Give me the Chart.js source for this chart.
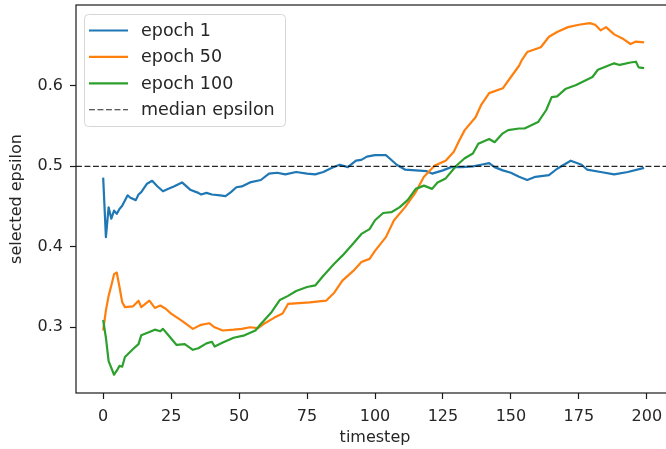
<!DOCTYPE html>
<html>
<head>
<meta charset="utf-8">
<script src="https://cdn.jsdelivr.net/npm/chart.js@4/dist/chart.umd.min.js"></script>
<style>
  html, body { margin: 0; padding: 0; background: #fff; overflow: hidden; }
  #wrap { width: 666px; height: 449px; overflow: hidden; position: relative; }
  canvas { display: block; }
</style>
</head>
<body>
<div id="wrap"><canvas id="c" width="680" height="449"></canvas></div>
<script>
// ---- data ----
const seriesLabels = ['epoch 1', 'epoch 50', 'epoch 100', 'median epsilon'];

const epoch1Steps  = [0,1,2,3,4,5,6,7,9,10,12,13,14,16,18,20,22,24,26,29,32,35,36,38,40,43,45,47,49,51,54,58,61,64,67,71,75,78,81,84,87,90,93,95,97,100,104,105,108,111,115,119,121,125,128,132,136,139,142,144,147,150,153,156,159,164,167,172,176,178,183,188,193,199];
const epoch1Values = [0.486,0.412,0.449,0.435,0.445,0.441,0.447,0.451,0.464,0.461,0.458,0.465,0.468,0.478,0.482,0.475,0.469,0.472,0.475,0.480,0.471,0.467,0.465,0.467,0.465,0.464,0.463,0.468,0.474,0.475,0.480,0.483,0.491,0.492,0.490,0.493,0.491,0.490,0.493,0.498,0.502,0.499,0.507,0.508,0.512,0.514,0.514,0.511,0.502,0.496,0.495,0.494,0.491,0.495,0.499,0.499,0.500,0.502,0.504,0.499,0.495,0.492,0.487,0.483,0.487,0.489,0.497,0.507,0.502,0.496,0.493,0.490,0.493,0.498];

const epoch50Steps  = [0,1,2,3,4,5,6,7,8,11,13,14,17,19,21,23,25,29,33,36,39,41,44,48,51,54,57,59,63,66,68,72,76,82,85,88,92,95,98,100,104,107,111,115,118,122,126,129,131,133,137,139,142,147,150,153,154,156,161,164,167,171,175,179,181,183,185,188,191,194,196,199];
const epoch50Values = [0.296,0.321,0.339,0.352,0.366,0.368,0.350,0.331,0.325,0.326,0.333,0.325,0.333,0.324,0.327,0.323,0.317,0.308,0.298,0.303,0.305,0.300,0.296,0.297,0.298,0.300,0.299,0.304,0.312,0.317,0.329,0.330,0.331,0.333,0.343,0.358,0.370,0.381,0.385,0.395,0.412,0.433,0.449,0.468,0.487,0.501,0.507,0.518,0.532,0.545,0.561,0.576,0.591,0.597,0.611,0.625,0.632,0.642,0.648,0.661,0.667,0.673,0.676,0.678,0.676,0.669,0.673,0.664,0.659,0.652,0.655,0.654];

const epoch100Steps  = [0,1,2,4,5,6,7,8,11,13,14,17,19,21,22,24,27,30,33,35,38,40,41,44,48,52,56,58,62,65,68,71,75,78,81,85,88,92,95,98,100,103,106,109,112,115,118,121,123,126,130,133,136,138,142,144,147,149,153,155,160,163,165,167,170,174,177,180,182,185,188,190,194,196,197,199];
const epoch100Values = [0.309,0.287,0.258,0.241,0.246,0.252,0.251,0.263,0.273,0.279,0.290,0.294,0.297,0.295,0.298,0.290,0.278,0.279,0.272,0.274,0.280,0.282,0.276,0.281,0.287,0.290,0.296,0.304,0.319,0.334,0.339,0.345,0.350,0.352,0.364,0.379,0.389,0.404,0.416,0.422,0.433,0.442,0.443,0.449,0.458,0.472,0.476,0.472,0.480,0.485,0.501,0.510,0.516,0.528,0.534,0.530,0.541,0.545,0.547,0.547,0.555,0.570,0.586,0.587,0.596,0.601,0.606,0.611,0.620,0.624,0.628,0.626,0.629,0.630,0.623,0.622];

const medianEpsilon = 0.5;
const xTickValues = [0,25,50,75,100,125,150,175,200];
const yTickValues = [0.3,0.4,0.5,0.6];
const xRange = [-10, 210];
const yRange = [0.2183, 0.7005];
const xAxisTitle = 'timestep';
const yAxisTitle = 'selected epsilon';

// ---- styling ----
const FONT = '"DejaVu Sans", sans-serif';
const FS = 16;
const LEGEND_FS = 17.5;
const TEXT = '#262626';
const colors = ['#1f77b4', '#ff7f0e', '#2ca02c', '#000000'];

const pts = (xs, ys) => xs.map((x, i) => ({ x, y: ys[i] }));

const datasets = [
  { label: seriesLabels[0], data: pts(epoch1Steps, epoch1Values), borderColor: colors[0], order: 3 },
  { label: seriesLabels[1], data: pts(epoch50Steps, epoch50Values), borderColor: colors[1], order: 2 },
  { label: seriesLabels[2], data: pts(epoch100Steps, epoch100Values), borderColor: colors[2], order: 1 },
  { label: seriesLabels[3], data: [{ x: xRange[0], y: medianEpsilon }, { x: xRange[1], y: medianEpsilon }],
    borderColor: 'rgba(0,0,0,0.85)', borderWidth: 1.1, borderDash: [5.9, 2.6], order: 0 }
].map(d => Object.assign({ borderWidth: 2.2, pointRadius: 0, tension: 0, fill: false, borderJoinStyle: 'round', borderCapStyle: 'butt' }, d));

const framePlugin = {
  id: 'frame',
  afterDatasetsDraw(chart) {
    const { ctx, chartArea: a } = chart;
    ctx.save();
    ctx.strokeStyle = '#1a1a1a';
    ctx.lineWidth = 1.2;
    ctx.strokeRect(a.left, a.top, a.right - a.left, a.bottom - a.top);
    ctx.restore();
  },
  afterDraw(chart) {
    const { ctx, chartArea: a } = chart;
    ctx.save();
    // axis titles
    ctx.fillStyle = TEXT;
    ctx.font = FS + 'px ' + FONT;
    ctx.textAlign = 'center';
    ctx.textBaseline = 'middle';
    ctx.fillText(xAxisTitle, (a.left + a.right) / 2, 438);
    ctx.translate(17, (a.top + a.bottom) / 2);
    ctx.rotate(-Math.PI / 2);
    ctx.fillText(yAxisTitle, 0, 0);
    ctx.restore();

    // legend (inside the plot, upper left)
    ctx.save();
    const bx = 84.5, by = 14.5, bw = 201, bh = 112, r = 4;
    ctx.beginPath();
    ctx.moveTo(bx + r, by);
    ctx.arcTo(bx + bw, by, bx + bw, by + bh, r);
    ctx.arcTo(bx + bw, by + bh, bx, by + bh, r);
    ctx.arcTo(bx, by + bh, bx, by, r);
    ctx.arcTo(bx, by, bx + bw, by, r);
    ctx.closePath();
    ctx.fillStyle = 'rgba(255,255,255,0.8)';
    ctx.fill();
    ctx.strokeStyle = '#d6d6d6';
    ctx.lineWidth = 1;
    ctx.stroke();
    ctx.font = LEGEND_FS + 'px ' + FONT;
    ctx.textAlign = 'left';
    ctx.textBaseline = 'middle';
    chart.data.datasets.forEach((d, i) => {
      const y = 30.5 + i * 26.4;
      ctx.beginPath();
      ctx.setLineDash(d.borderDash || []);
      ctx.strokeStyle = d.borderColor;
      ctx.lineWidth = d.borderWidth;
      ctx.moveTo(89, y);
      ctx.lineTo(128, y);
      ctx.stroke();
      ctx.setLineDash([]);
      ctx.fillStyle = TEXT;
      ctx.fillText(d.label, 141, y + 1);
    });
    ctx.restore();
  }
};

new Chart(document.getElementById('c'), {
  type: 'line',
  data: { datasets },
  options: {
    responsive: false,
    animation: false,
    devicePixelRatio: 1,
    layout: { padding: { left: 0, top: 5, right: 6, bottom: 0 } },
    plugins: { legend: { display: false }, tooltip: { enabled: false } },
    scales: {
      x: {
        type: 'linear', min: xRange[0], max: xRange[1],
        afterBuildTicks: s => { s.ticks = xTickValues.map(v => ({ value: v })); },
        afterFit: s => { s.height = 56; s.paddingLeft = 0; s.paddingRight = 0; },
        grid: { drawOnChartArea: false, drawTicks: true, tickLength: 6, tickColor: '#1a1a1a', tickWidth: 1.2 },
        border: { display: false },
        ticks: { color: TEXT, font: { family: FONT, size: FS }, padding: 8, maxRotation: 0, autoSkip: false,
                 callback: v => String(v) }
      },
      y: {
        type: 'linear', min: yRange[0], max: yRange[1],
        afterBuildTicks: s => { s.ticks = yTickValues.map(v => ({ value: v })); },
        afterFit: s => { s.width = 76; s.paddingTop = 0; s.paddingBottom = 0; },
        grid: { drawOnChartArea: false, drawTicks: true, tickLength: 6, tickColor: '#1a1a1a', tickWidth: 1.2 },
        border: { display: false },
        ticks: { color: TEXT, font: { family: FONT, size: FS }, padding: 7, autoSkip: false,
                 callback: v => Number(v).toFixed(1) }
      }
    }
  },
  plugins: [framePlugin]
});
</script>
</body>
</html>
